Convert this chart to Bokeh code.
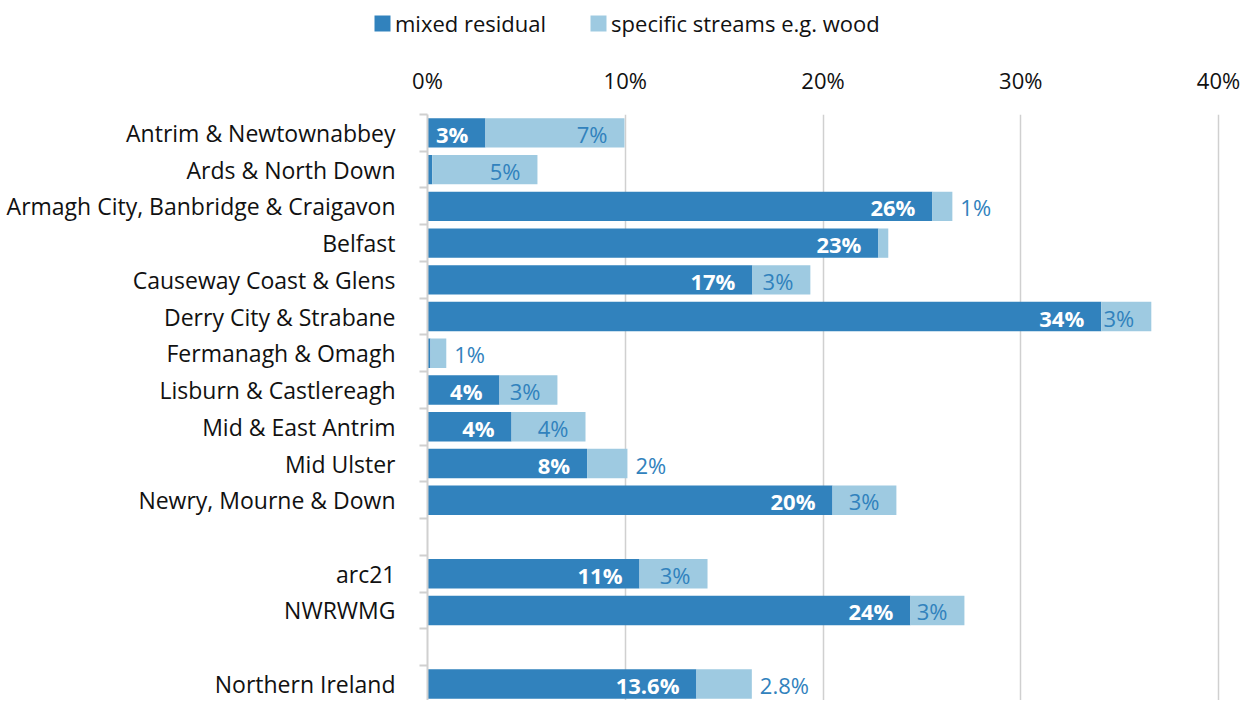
from bokeh.plotting import figure
from bokeh.models import (ColumnDataSource, Range1d, FixedTicker, Legend, LegendItem)
from bokeh.layouts import column
from bokeh.core.properties import value
from bokeh.embed import file_html
from bokeh.resources import INLINE

# ---- data (percent) ----
categories = ["Antrim & Newtownabbey", "Ards & North Down",
              "Armagh City, Banbridge & Craigavon", "Belfast",
              "Causeway Coast & Glens", "Derry City & Strabane",
              "Fermanagh & Omagh", "Lisburn & Castlereagh",
              "Mid & East Antrim", "Mid Ulster", "Newry, Mourne & Down",
              "", "arc21", "NWRWMG", "", "Northern Ireland"]
mixed_residual = [2.93, 0.24, 25.53, 22.8, 16.43, 34.07, 0.15, 3.64, 4.25,
                  8.07, 20.48, None, 10.72, 24.42, None, 13.6]
specific_streams = [7.03, 5.32, 1.01, 0.5, 2.93, 2.53, 0.8, 2.93, 3.74,
                    2.04, 3.23, None, 3.44, 2.73, None, 2.8]
mixed_labels = ["3%", "", "26%", "23%", "17%", "34%", "", "4%", "4%", "8%",
                "20%", "", "11%", "24%", "", "13.6%"]
specific_labels = ["7%", "5%", "1%", "", "3%", "3%", "1%", "3%", "4%", "2%",
                   "3%", "", "3%", "3%", "", "2.8%"]
series_names = ["mixed residual", "specific streams e.g. wood"]
x_ticks = [0, 10, 20, 30, 40]
x_tick_labels = ["0%", "10%", "20%", "30%", "40%"]

DARK = "#3182bd"
LIGHT = "#9ecae1"
FONT = "Open Sans"
FS = "22px"
TXT = "#111111"

W = 1245
LH = 50                 # legend strip height
H = 700 - LH            # main chart height
LEFT, TOP = 427, 64
XMAX = 40.2
PX = 19.78              # approx pixels per percent
RIGHT_B = W - LEFT - int(round(XMAX * PX))
Y_BOTTOM = 15.45

rows = [i for i, c in enumerate(categories) if c]
src = ColumnDataSource(dict(
    y=rows,
    mixed=[mixed_residual[i] for i in rows],
    spec=[specific_streams[i] for i in rows],
    total=[mixed_residual[i] + specific_streams[i] for i in rows],
    mlab=[mixed_labels[i] for i in rows],
))

# specific-stream labels: inside the segment end if they fit, else outside
def text_w(s):
    return 22 * (0.572 * sum(ch.isdigit() for ch in s) + 0.27 * s.count(".") + 0.823)

in_y, in_x, in_t, out_y, out_x, out_t = [], [], [], [], [], []
for i in rows:
    t = specific_labels[i]
    if not t:
        continue
    tot = mixed_residual[i] + specific_streams[i]
    if specific_streams[i] * PX >= text_w(t) + 15:
        in_y.append(i); in_x.append(tot); in_t.append(t)
    else:
        out_y.append(i); out_x.append(tot); out_t.append(t)

p = figure(width=W, height=H, output_backend="svg", toolbar_location=None,
           x_range=Range1d(0, XMAX),
           y_range=Range1d(Y_BOTTOM, -0.5),
           x_axis_location="above", min_border_left=LEFT,
           min_border_right=RIGHT_B, min_border_top=TOP, min_border_bottom=0)
p.outline_line_color = None
p.background_fill_color = "white"
p.border_fill_color = "white"

r1 = p.hbar(y="y", left=0, right="mixed", height=0.8, color=DARK,
            line_color=None, source=src)
r2 = p.hbar(y="y", left="mixed", right="total", height=0.8, color=LIGHT,
            line_color=None, source=src)

# labels
p.text(x="mixed", y="y", text="mlab", source=src, x_offset=-17, y_offset=1,
       text_align="right", text_baseline="middle", text_color="white",
       text_font=value(FONT), text_font_style="bold", text_font_size=FS)
p.text(x=in_x, y=in_y, text=in_t, x_offset=-17, y_offset=1,
       text_align="right", text_baseline="middle", text_color=DARK,
       text_font=value(FONT), text_font_size=FS)
p.text(x=out_x, y=out_y, text=out_t, x_offset=8, y_offset=1,
       text_align="left", text_baseline="middle", text_color=DARK,
       text_font=value(FONT), text_font_size=FS)

# x axis (top)
xa = p.xaxis[0]
xa.ticker = FixedTicker(ticks=x_ticks)
xa.major_label_overrides = {t: l for t, l in zip(x_ticks, x_tick_labels)}
xa.axis_line_color = None
xa.major_tick_line_color = None
xa.minor_tick_line_color = None
xa.major_tick_out = 0
xa.major_label_standoff = 20
xa.major_label_text_font = FONT
xa.major_label_text_font_size = FS
xa.major_label_text_color = TXT

# y axis (categories)
ya = p.yaxis[0]
ya.ticker = FixedTicker(ticks=rows,
                        minor_ticks=[i - 0.5 for i in range(len(categories) + 1)])
ya.major_label_overrides = {i: categories[i] for i in rows}
ya.major_tick_line_color = None
ya.major_tick_out = 0
ya.major_tick_in = 0
ya.minor_tick_out = 8
ya.minor_tick_in = 0
ya.minor_tick_line_color = "#d0d0d0"
ya.minor_tick_line_width = 2
ya.axis_line_color = "#d0d0d0"
ya.axis_line_width = 2
ya.major_label_standoff = 24
ya.major_label_text_font = FONT
ya.major_label_text_font_size = "23px"
ya.major_label_text_color = TXT

p.xgrid.ticker = FixedTicker(ticks=x_ticks[1:])
p.xgrid.grid_line_color = "#d0d0d0"
p.xgrid.grid_line_width = 1.5
p.ygrid.grid_line_color = None

# ---- legend strip ----
lp = figure(width=W, height=LH, output_backend="svg", toolbar_location=None,
            x_range=Range1d(0, 1),
            y_range=Range1d(len(categories) + 5, len(categories) + 6),
            min_border=0)
try:
    lp.frame_align = False
    p.frame_align = False
except Exception:
    pass
lp.axis.visible = False
lp.grid.visible = False
lp.outline_line_color = None
lr1 = lp.hbar(y="y", left=0, right="mixed", height=0.8, color=DARK,
              line_color=None, source=src)
lr2 = lp.hbar(y="y", left="mixed", right="total", height=0.8, color=LIGHT,
              line_color=None, source=src)
legend = Legend(items=[LegendItem(label=series_names[0], renderers=[lr1]),
                       LegendItem(label=series_names[1], renderers=[lr2])],
                orientation="horizontal", location=(372, 12),
                glyph_width=20, glyph_height=20, label_standoff=3, spacing=42,
                padding=0, margin=0, border_line_color=None,
                background_fill_alpha=0,
                label_text_font=FONT, label_text_font_size=FS,
                label_text_color=TXT)
lp.add_layout(legend)

layout = column(lp, p, spacing=0)
open("out.html", "w").write(file_html(layout, INLINE))
